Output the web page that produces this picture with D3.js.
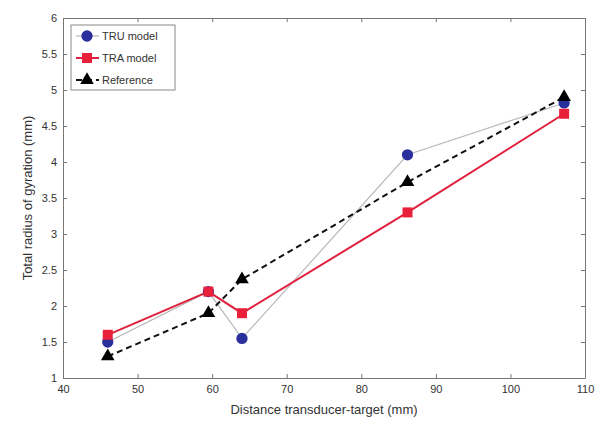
<!DOCTYPE html>
<html>
<head>
<meta charset="utf-8">
<script src="https://cdn.jsdelivr.net/npm/d3@7"></script>
<style>
  body { margin: 0; background: #fff; }
  #chart { width: 604px; height: 426px; }
  .axis text { font-family: "Liberation Sans", Arial, sans-serif; font-size: 11px; fill: #333; }
  .axis path, .axis line { stroke: #777; }
</style>
</head>
<body>
<div id="chart"></div>
<script>
var width = 604;
var height = 426;
var margin = { top: 18, right: 19, bottom: 48, left: 63 };

var distances = [46, 59.5, 64, 86.2, 107.2];
var truValues = [1.5, 2.2, 1.55, 4.1, 4.82];
var traValues = [1.6, 2.2, 1.9, 3.3, 4.67];
var refValues = [1.3, 1.9, 2.37, 3.72, 4.9];
var seriesNames = ['TRU model', 'TRA model', 'Reference'];
var xTicks = [40, 50, 60, 70, 80, 90, 100, 110];
var yTicks = [1, 1.5, 2, 2.5, 3, 3.5, 4, 4.5, 5, 5.5, 6];

var innerW = width - margin.left - margin.right;
var innerH = height - margin.top - margin.bottom;

var svg = d3.select('#chart').append('svg')
  .attr('width', width)
  .attr('height', height);

var chart = svg.append('g')
  .attr('transform', 'translate(' + margin.left + ',' + margin.top + ')');

var x = d3.scaleLinear().domain([40, 110]).range([0, innerW]);
var y = d3.scaleLinear().domain([1, 6]).range([innerH, 0]);

// axes, MATLAB style: ticks inside on all four sides
chart.append('g')
  .attr('class', 'axis')
  .attr('transform', 'translate(0,' + innerH + ')')
  .call(d3.axisBottom(x).tickValues(xTicks).tickSizeInner(-4).tickSizeOuter(0).tickPadding(7));

chart.append('g')
  .attr('class', 'axis')
  .call(d3.axisLeft(y).tickValues(yTicks).tickSizeInner(-4).tickSizeOuter(0).tickPadding(6)
    .tickFormat(function (d) { return d; }));

chart.append('g')
  .attr('class', 'axis')
  .call(d3.axisTop(x).tickValues(xTicks).tickSizeInner(-4).tickSizeOuter(0).tickFormat(''));

chart.append('g')
  .attr('class', 'axis')
  .attr('transform', 'translate(' + innerW + ',0)')
  .call(d3.axisRight(y).tickValues(yTicks).tickSizeInner(-4).tickSizeOuter(0).tickFormat(''));

var line = d3.line()
  .x(function (d) { return x(d[0]); })
  .y(function (d) { return y(d[1]); });

function pairs(values) {
  return distances.map(function (d, i) { return [d, values[i]]; });
}

var series = [
  { name: seriesNames[0], data: pairs(truValues), stroke: '#b8b8b8', width: 1.2, dash: null, fill: '#2b2f9c', shape: d3.symbolCircle, size: 100 },
  { name: seriesNames[1], data: pairs(traValues), stroke: '#e0203c', width: 2, dash: null, fill: '#e8203a', shape: d3.symbolSquare, size: 100 },
  { name: seriesNames[2], data: pairs(refValues), stroke: '#111', width: 2, dash: '6,4', fill: '#000', shape: d3.symbolTriangle, size: 80 }
];

series.forEach(function (s) {
  chart.append('path')
    .attr('fill', 'none')
    .attr('stroke', s.stroke)
    .attr('stroke-width', s.width)
    .attr('stroke-dasharray', s.dash)
    .attr('d', line(s.data));
});

series.forEach(function (s) {
  chart.append('g').selectAll('path')
    .data(s.data)
    .enter()
    .append('path')
      .attr('transform', function (d) { return 'translate(' + x(d[0]) + ',' + y(d[1]) + ')'; })
      .attr('d', d3.symbol().type(s.shape).size(s.size))
      .attr('fill', s.fill);
});

// legend
var legend = chart.append('g').attr('transform', 'translate(8,7)');

legend.append('rect')
  .attr('width', 104)
  .attr('height', 65)
  .attr('fill', '#fff')
  .attr('stroke', '#888');

series.forEach(function (s, i) {
  var ly = 11 + i * 22;
  legend.append('line')
    .attr('x1', 5).attr('x2', 28)
    .attr('y1', ly).attr('y2', ly)
    .attr('stroke', s.stroke)
    .attr('stroke-width', s.width)
    .attr('stroke-dasharray', s.dash);
  legend.append('path')
    .attr('transform', 'translate(16,' + ly + ')')
    .attr('d', d3.symbol().type(s.shape).size(s.size))
    .attr('fill', s.fill);
  legend.append('text')
    .attr('x', 31)
    .attr('y', ly + 4)
    .attr('font-family', '"Liberation Sans", Arial, sans-serif')
    .attr('font-size', 11)
    .attr('fill', '#333')
    .text(s.name);
});

svg.append('text')
  .attr('x', margin.left + innerW / 2)
  .attr('y', 414)
  .attr('text-anchor', 'middle')
  .attr('font-family', '"Liberation Sans", Arial, sans-serif')
  .attr('font-size', 13)
  .attr('fill', '#333')
  .text('Distance transducer-target (mm)');

svg.append('text')
  .attr('transform', 'translate(32,' + (margin.top + innerH / 2) + ') rotate(-90)')
  .attr('text-anchor', 'middle')
  .attr('font-family', '"Liberation Sans", Arial, sans-serif')
  .attr('font-size', 13)
  .attr('fill', '#333')
  .text('Total radius of gyration (mm)');
</script>
</body>
</html>
